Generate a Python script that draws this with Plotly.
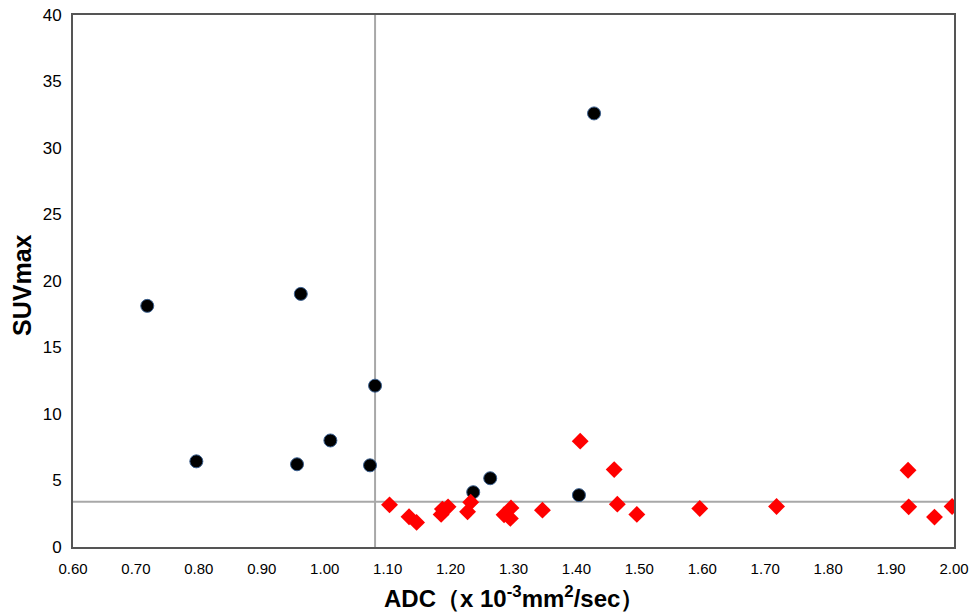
import plotly.graph_objects as go

# Black circles (group 1)
black_adc = [0.718, 0.796, 0.956, 0.962, 1.009, 1.072, 1.080, 1.236, 1.263, 1.404, 1.428]
black_suv = [18.13, 6.44, 6.22, 19.03, 8.01, 6.14, 12.13, 4.12, 5.17, 3.90, 32.6]

# Red diamonds (group 2)
red_adc = [1.103, 1.134, 1.146, 1.185, 1.187, 1.196, 1.227, 1.232, 1.285, 1.295, 1.296,
           1.346, 1.406, 1.460, 1.465, 1.496, 1.596, 1.718, 1.927, 1.928, 1.969, 1.997]
red_suv = [3.17, 2.27, 1.85, 2.45, 2.85, 3.02, 2.65, 3.37, 2.42, 2.15, 2.94,
           2.77, 7.96, 5.82, 3.22, 2.45, 2.90, 3.05, 5.77, 3.02, 2.25, 3.05]

# Cut-off lines
adc_cutoff = 1.08
suv_cutoff = 3.4

x_ticks = [0.6 + 0.1 * i for i in range(15)]
x_ticklabels = ["%.2f" % v for v in x_ticks]
y_ticks = [0, 5, 10, 15, 20, 25, 30, 35, 40]

x_title = "<b>ADC（x 10<sup>-3</sup>mm<sup>2</sup>/sec）</b>"
y_title = "<b>SUVmax</b>"

fig = go.Figure()

fig.add_shape(type="line", x0=adc_cutoff, x1=adc_cutoff, y0=0, y1=40,
              line=dict(color="#a8a8a8", width=2), layer="below")
fig.add_shape(type="line", x0=0.6, x1=2.0, y0=suv_cutoff, y1=suv_cutoff,
              line=dict(color="#a8a8a8", width=2), layer="below")

fig.add_trace(go.Scatter(x=black_adc, y=black_suv, mode="markers",
                         marker=dict(symbol="circle", size=13, color="black",
                                     line=dict(color="#3a5f8f", width=1)),
                         showlegend=False))
fig.add_trace(go.Scatter(x=red_adc, y=red_suv, mode="markers",
                         marker=dict(symbol="diamond", size=13, color="#ff0000",
                                     line=dict(width=0)),
                         showlegend=False))

fig.add_annotation(text=x_title, xref="paper", yref="paper", x=0.5, y=0,
                   xanchor="center", yanchor="middle", yshift=-50, showarrow=False,
                   font=dict(size=24, family="Liberation Sans, Arial, sans-serif"))
fig.add_annotation(text=y_title, xref="paper", yref="paper", x=0, y=0.5,
                   xanchor="center", yanchor="middle", xshift=-51, yshift=-4,
                   textangle=-90, showarrow=False,
                   font=dict(size=25, family="Liberation Sans, Arial, sans-serif"))

fig.update_layout(
    width=969, height=614,
    margin=dict(l=73, r=15, t=15, b=67),
    plot_bgcolor="white", paper_bgcolor="white",
    font=dict(family="Liberation Sans, Arial, sans-serif", color="black"),
)
fig.update_xaxes(
    range=[0.6, 2.0], tickvals=x_ticks, ticktext=x_ticklabels,
    showgrid=False, zeroline=False, automargin=False,
    showline=True, linecolor="#555555", linewidth=2, mirror=True,
    ticks="", tickfont=dict(size=15), ticklabelstandoff=7,
    ticklabeloverflow="allow",
)
fig.update_yaxes(
    range=[0, 40], tickvals=y_ticks,
    showgrid=False, zeroline=False, automargin=False,
    showline=True, linecolor="#555555", linewidth=2, mirror=True,
    ticks="", tickfont=dict(size=17), ticklabelstandoff=6,
    ticklabeloverflow="allow",
)

fig.write_html("out.html",
               config={"displayModeBar": False},
               post_script="document.body.style.margin='0';document.body.style.overflow='hidden';")
